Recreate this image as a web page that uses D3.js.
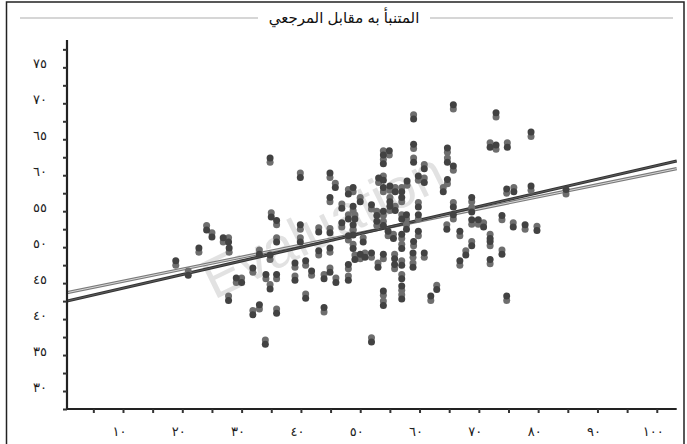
<!DOCTYPE html>
<html>
<head>
<meta charset="utf-8">
<script src="https://cdn.jsdelivr.net/npm/d3@7"></script>
<style>
  html, body { margin: 0; padding: 0; background: #fff; }
  svg { display: block; font-family: "Liberation Sans", Arial, "DejaVu Sans", sans-serif; }
</style>
</head>
<body>
<svg id="chart" width="687" height="444"></svg>
<script>
// ---- data ----
const chartTitle = "المتنبأ به مقابل المرجعي";
const watermarkText = "Evaluation";

// reference values (x)
const reference = [
  18.9,21.0,22.8,24.1,25.0,26.9,27.8,27.9,27.8,29.1,
  30.0,31.9,31.9,33.0,33.0,34.0,34.1,34.8,34.8,35.0,
  35.9,35.9,35.9,35.9,34.8,39.9,39.0,39.0,39.9,39.9,
  40.8,40.8,41.8,43.0,43.0,43.9,43.9,44.9,44.9,45.9,
  44.9,45.8,44.9,46.9,46.9,48.0,48.8,48.8,48.0,49.1,
  48.0,48.0,
  50.0,50.8,51.9,53.0,53.9,55.8,55.8,57.0,58.9,58.9,60.8,57.0,53.9,53.9,57.0,57.0,61.9,62.9,51.9,66.8,67.8,71.9,73.9,74.7,
  65.7,59.0,72.9,71.9,72.9,74.8,78.8,53.9,54.9,53.9,59.0,59.0,64.7,64.7,65.7,60.8,59.8,60.8,57.9,53.9,53.1,
  48.0,48.8,50.0,55.0,55.9,53.9,57.0,57.0,64.0,64.7,59.8,68.8,68.8,74.7,75.9,78.8,84.7,65.7,65.7,
  49.1,51.9,52.8,53.9,55.0,55.0,55.9,57.8,57.8,57.0,59.8,64.6,68.8,68.8,69.9,70.8,66.8,71.9,73.9,75.8,77.8,79.8,
  59.0,50.5,48.8,48.8,52.8,53.9,54.7,55.6,57.0,57.0,59.8,71.9,44.9
];

// predicted values, first series (dark markers)
const predictedA = [
  48.1,46.1,49.9,52.4,51.4,51.3,50.7,49.9,42.6,45.7,
  45.1,47.1,40.6,42.0,49.0,36.5,46.2,44.2,48.9,54.2,
  53.7,50.7,46.2,40.8,62.4,59.7,47.8,45.4,53.1,50.7,
  48.1,42.9,46.7,52.1,49.5,45.6,41.6,46.5,49.9,45.1,
  60.3,58.3,56.9,55.4,53.4,53.9,55.7,51.7,51.6,48.3,
  47.6,45.4,
  49.0,48.6,49.2,47.2,49.0,48.4,47.6,47.5,49.2,47.2,49.2,45.6,43.9,41.9,44.6,42.8,43.2,44.1,36.8,48.1,48.9,48.3,49.0,43.2,
  69.8,67.8,68.7,63.9,64.2,63.9,66.0,62.8,63.4,61.6,64.3,61.8,63.8,61.8,61.3,60.9,59.9,59.0,59.2,59.3,59.6,
  57.4,58.3,56.3,58.5,57.7,58.3,57.7,56.9,57.7,59.4,55.6,56.9,54.9,58.1,57.7,58.5,58.0,55.6,54.5,
  53.9,55.9,54.4,55.0,56.3,55.7,55.1,54.5,52.5,53.9,54.5,52.5,53.8,50.2,53.8,52.8,52.2,51.2,54.4,52.8,53.1,52.3,
  50.8,50.7,53.1,49.8,53.6,53.0,52.2,51.2,51.8,49.8,52.2,50.8,52.0
];

// predicted values, second series (light markers)
const predictedB = [
  47.5,46.7,49.3,53.0,52.0,50.7,51.3,49.3,43.2,45.1,
  45.7,46.5,41.2,41.4,49.6,37.1,45.6,44.8,48.3,54.8,
  53.1,51.3,45.6,41.4,61.8,60.3,47.2,46.0,52.5,51.3,
  47.5,43.5,46.1,52.7,48.9,46.2,41.0,47.1,49.3,45.7,
  59.7,58.9,56.3,56.0,52.8,54.5,55.1,52.3,51.0,48.9,
  47.0,46.0,
  48.4,49.2,48.6,47.8,48.4,49.0,47.0,48.1,48.6,47.8,48.6,46.2,43.3,42.5,44.0,43.4,42.6,44.7,37.4,47.5,49.5,47.7,49.6,42.6,
  69.2,68.4,68.1,64.5,63.6,64.5,65.4,63.4,62.8,62.2,63.7,62.4,63.2,62.4,60.7,61.5,59.3,59.6,58.6,59.9,59.0,
  58.0,57.7,56.9,57.9,58.3,57.7,58.3,56.3,58.3,58.8,56.2,56.3,55.5,57.5,58.3,57.9,57.4,56.2,53.9,
  54.5,55.3,55.0,54.4,56.9,55.1,55.7,53.9,53.1,54.5,53.9,53.1,53.2,50.8,53.2,53.4,51.6,51.8,53.8,53.4,52.5,52.9,
  50.2,51.3,52.5,50.4,53.0,53.6,51.6,51.8,51.2,50.4,51.6,50.2,52.6
];

// fitted lines: [intercept, slope]
const fitA = [42.40, 0.1894];
const fitB = [43.58, 0.1677];

// axis ticks and labels
const xTicks  = d3.range(5, 101, 5);
const xLabels = [10, 20, 30, 40, 50, 60, 70, 80, 90, 100];
const yTicks  = d3.range(27.5, 78, 2.5);
const yLabels = [30, 35, 40, 45, 50, 55, 60, 65, 70, 75];

// ---- drawing ----
const svg = d3.select("#chart");

const x = d3.scaleLinear().domain([0.56, 103.36]).range([67, 676.7]);
const y = d3.scaleLinear().domain([27.5, 78.8]).range([409, 40]);

const arabicDigits = "٠١٢٣٤٥٦٧٨٩";
const toArabic = n => String(n).replace(/\d/g, d => arabicDigits[+d]);

// frame (runs past the lower edge of the canvas)
svg.append("rect")
  .attr("x", 6.5).attr("y", 2)
  .attr("width", 677.5).attr("height", 460)
  .attr("fill", "#fff").attr("stroke", "#222").attr("stroke-width", 1.5);

// title with side rules
svg.append("line").attr("x1", 20).attr("x2", 258).attr("y1", 18).attr("y2", 18)
  .attr("stroke", "#d6d6d6").attr("stroke-width", 2);
svg.append("line").attr("x1", 430).attr("x2", 673).attr("y1", 18).attr("y2", 18)
  .attr("stroke", "#d6d6d6").attr("stroke-width", 2);
svg.append("text")
  .attr("x", 344).attr("y", 23)
  .attr("text-anchor", "middle")
  .attr("font-size", 15)
  .attr("fill", "#111")
  .text(chartTitle);

// watermark
svg.append("text")
  .attr("transform", "translate(214,300) rotate(-26)")
  .attr("font-size", 56)
  .attr("fill", "#e2e2e2")
  .text(watermarkText);

// clip region for the fitted lines
svg.append("clipPath").attr("id", "plotClip")
  .append("rect").attr("x", 67).attr("y", 40).attr("width", 610).attr("height", 369);

const fitLine = f => [
  [x.domain()[0], f[0] + f[1] * x.domain()[0]],
  [x.domain()[1], f[0] + f[1] * x.domain()[1]]
];
const lineGen = d3.line().x(d => x(d[0])).y(d => y(d[1]));

const lines = svg.append("g").attr("clip-path", "url(#plotClip)");
lines.append("path").attr("d", lineGen(fitLine(fitB)))
  .attr("fill", "none").attr("stroke", "#7a7a7a").attr("stroke-width", 3.2);
lines.append("path").attr("d", lineGen(fitLine(fitB)))
  .attr("fill", "none").attr("stroke", "#d8d8d8").attr("stroke-width", 1);
lines.append("path").attr("d", lineGen(fitLine(fitA)))
  .attr("fill", "none").attr("stroke", "#333").attr("stroke-width", 3);
lines.append("path").attr("d", lineGen(fitLine(fitA)))
  .attr("fill", "none").attr("stroke", "#666").attr("stroke-width", 0.8);

// markers
const pts = svg.append("g");
pts.selectAll("circle.b").data(reference.map((r, i) => [r, predictedB[i]]))
  .join("circle").attr("class", "b")
  .attr("cx", d => x(d[0])).attr("cy", d => y(d[1])).attr("r", 3.5)
  .attr("fill", "#6e6e6e");
pts.selectAll("circle.a").data(reference.map((r, i) => [r, predictedA[i]]))
  .join("circle").attr("class", "a")
  .attr("cx", d => x(d[0])).attr("cy", d => y(d[1])).attr("r", 3.5)
  .attr("fill", "#424242");

// axes
const xAxis = d3.axisBottom(x).tickValues(xTicks).tickSize(4).tickPadding(14)
  .tickFormat(d => xLabels.includes(d) ? toArabic(d) : "");
const yAxis = d3.axisLeft(y).tickValues(yTicks).tickSize(4).tickPadding(16)
  .tickFormat(d => yLabels.includes(d) ? toArabic(d) : "");

const gx = svg.append("g").attr("transform", "translate(0,409)").call(xAxis);
const gy = svg.append("g").attr("transform", "translate(67,0)").call(yAxis);

[gx, gy].forEach(g => {
  g.select(".domain").attr("stroke", "#222").attr("stroke-width", 2.2);
  g.selectAll(".tick line").attr("stroke", "#333").attr("stroke-width", 2);
  g.selectAll(".tick text").attr("font-size", 13).attr("fill", "#222")
    .attr("font-family", "'DejaVu Sans', 'Noto Sans', sans-serif");
});
gx.selectAll(".tick text").attr("dx", -4);
gy.selectAll(".tick text").attr("dy", "0.05em");
gx.select(".domain").attr("d", "M67,0H676.7");
gy.select(".domain").attr("d", "M0,409V40");
</script>
</body>
</html>
